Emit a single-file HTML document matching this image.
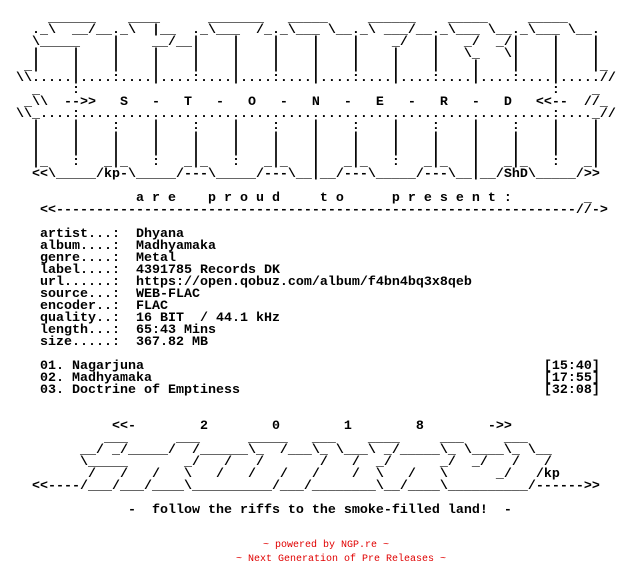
<!DOCTYPE html>
<html><head><meta charset="utf-8"><style>
html,body{margin:0;padding:0;background:#fff;width:624px;height:588px;overflow:hidden}
pre{position:absolute;left:0;top:13px;margin:0;font-family:"Liberation Mono",monospace;font-weight:bold;font-size:13.333px;line-height:12px;color:#000;white-space:pre}
.r{position:absolute;margin:0;font-family:"Liberation Mono",monospace;font-size:10px;line-height:12px;color:#e00000;white-space:pre}
</style></head><body>
<pre>      ______    ____      _______   _____     ______    _____     _____
    ._\  __/__._\  |__  ._\___  /_._\___ \__._\ ___/__._\___ \__._\___ \__.
    \_____    |    __/__|    |    |    |    |    _/   |   _/  _/|    |    |
    |    |    |    |    |    |    |    |    |    |    |   \_   \|    |    |
   _|    |    |    |    |    |    |    |    |    |    |    |    |    |    |_
  \\.....|....:....|....:....|....:....|....:....|....:....|....:....|.....//
    _    :                                                           :    _
   _\\  --&gt;&gt;   S   -   T   -   O   -   N   -   E   -   R   -   D   &lt;&lt;--  //_
  \\_....:...........................................................:...._//
    |    |    :    |    :    |    :    |    :    |    :    |    :    |    |
    |    |    |    |    |    |    |    |    |    |    |    |    |    |    |
    |    |    |    |    |    |    |    |    |    |    |    |    |    |    |
    |_   :   _|_   :   _|_   :   _|_   |   _|_   :   _|_   |   _|_   :   _|
    &lt;&lt;\_____/kp-\_____/---\_____/---\__|__/---\_____/---\__|__/ShD\_____/&gt;&gt;

                 a r e    p r o u d     t o      p r e s e n t :         _
     &lt;&lt;-----------------------------------------------------------------//-&gt;

     artist...:  Dhyana
     album....:  Madhyamaka
     genre....:  Metal
     label....:  4391785 Records DK
     url......:  https://open.qobuz.com/album/f4bn4bq3x8qeb
     source...:  WEB-FLAC
     encoder..:  FLAC
     quality..:  16 BIT  / 44.1 kHz
     length...:  65:43 Mins
     size.....:  367.82 MB

     01. Nagarjuna                                                  [15:40]
     02. Madhyamaka                                                 [17:55]
     03. Doctrine of Emptiness                                      [32:08]


              &lt;&lt;-        2        0        1        8        -&gt;&gt;
             ___      ___      _____   ___    ____     ___     ___
          __/ _/_____/  /______\_  /___\_ \___\ _/_____\_ \____\_ \__
          \_____       _/   /   /       /   /  _/      _/  _/   /   /
           /   /   /   \   /   /   /   /    /  \   /   \      _/   /kp
    &lt;&lt;----/___/___/____\__________/___/________\__/____\__________/------&gt;&gt;

                -  follow the riffs to the smoke-filled land!  -</pre>
<div class="r" style="left:263px;top:540px">~ powered by NGP.re ~</div>
<div class="r" style="left:236px;top:554px">~ Next Generation of Pre Releases ~</div>
</body></html>
